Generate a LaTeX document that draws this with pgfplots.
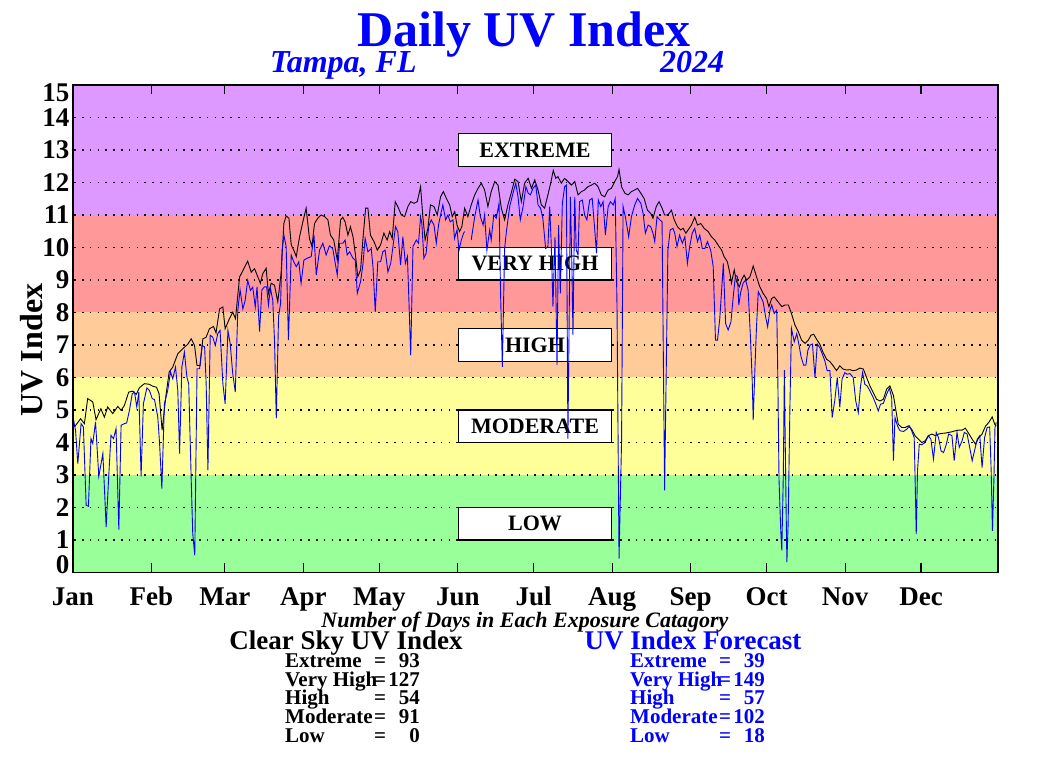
\documentclass[border=0pt]{standalone}
\usepackage{pgfplots}
\usepackage{pgfplotstable}
\pgfplotsset{compat=1.18}
\usepackage{fontspec}
\setmainfont{Liberation Serif}
\definecolor{bgreen}{RGB}{153,255,153}
\definecolor{byellow}{RGB}{255,255,153}
\definecolor{borange}{RGB}{255,204,153}
\definecolor{bred}{RGB}{255,153,153}
\definecolor{bpurple}{RGB}{221,153,255}
\definecolor{uvblue}{RGB}{0,0,255}

\pgfplotstableread{
d v
0.6 4.48
3 4.73
4.5 4.58
5.8 5.35
7.8 5.25
9.1 4.7
11 5.04
12.4 4.78
13.7 5.09
15.7 4.89
17.7 5.11
19 4.99
20.3 5.14
22 5.55
23.6 5.58
25 5.48
26.2 5.68
28.2 5.81
30.2 5.79
31.5 5.73
33 5.7
34 5.5
35.2 4.38
36.8 5.5
38 6.17
39.4 6.32
41.4 6.73
43.4 6.89
45.3 7.02
46.7 7.19
48 6.99
49 6.37
50.2 6.37
51.3 7.19
52.6 7.24
53.9 7.5
55.5 7.57
56.5 7.37
57.9 8.11
59.2 8.17
60.1 7.5
61.8 7.81
63.1 8.01
64.2 7.81
65.8 9.09
67.1 9.29
69 9.58
70.4 9.24
71.7 9.35
73 9.1
74 8.9
75 9.2
76.3 9.36
77.2 8.59
78.3 8.9
79.6 8.84
80.9 8.33
82.2 9.2
83.3 10.74
84.2 10.97
85.3 10.9
86.2 10.08
87.2 9.92
88.2 9.72
89.5 10.33
90.8 10.79
92.1 11.21
93.4 10.28
94.4 10.03
95.4 10.74
96.7 10.9
98 11.0
99.4 10.95
100.7 10.85
101.7 10.38
103 10.23
104.4 9.61
105.7 10.85
106.6 10.93
107.5 10.79
108.6 10.38
109.6 10.64
110.6 10.33
111.5 9.82
112.5 9.1
113.6 9.31
114.5 10.23
115.6 11.21
116.5 11.21
117.5 10.38
118.9 10.18
120.2 9.92
121.5 10.08
122.8 10.44
124.1 10.23
125.1 10.49
126.1 10.28
127.3 11.41
128.3 11.26
129.7 11.0
131 10.95
132.3 11.26
133.4 11.41
134.7 11.36
136 11.41
137.3 11.87
138.2 10.95
139.1 10.23
140.2 10.59
141.2 11.31
142.6 11.26
143.9 11.0
145.2 11.56
146.3 11.72
147.5 11.51
148.8 11.31
149.8 10.95
150.8 11.1
151.7 10.69
152.7 10.49
153.6 10.64
154.7 11.21
156 10.95
157.3 11.31
158.7 11.62
160 11.82
161.3 11.98
162.6 11.77
163.9 11.26
165.2 11.72
166.6 12.03
167.9 11.92
169.2 11.21
170.5 10.85
171.8 11.31
173.1 11.67
174.5 12.1
175.8 12.03
177.1 11.41
178.4 11.98
179.8 12.13
181.1 11.82
182.4 12.08
183.7 11.77
185 11.31
186.3 11.21
187.6 11.62
188.7 11.98
189.7 12.37
190.7 12.13
191.6 12.18
192.9 11.98
194.2 12.13
195.5 12.03
196.9 11.92
198.2 12.03
199.5 11.62
200.8 11.72
202.1 11.77
203.4 11.87
204.8 11.92
206.1 11.98
207.4 11.87
208.7 11.62
210 11.56
211.4 11.77
212.7 11.82
214 12.03
215.1 12.18
215.7 12.4
216.7 11.87
218 11.67
219.3 11.62
220.6 11.72
221.9 11.77
223 11.82
224.3 11.67
225.6 11.51
226.9 11.15
228.2 11.05
229.1 10.9
230.4 11.26
231.5 11.41
232.7 11.21
233.7 11.0
235 11.0
236.4 11.15
237.5 10.85
238.8 10.64
240.1 10.54
241 10.59
242.1 10.44
243 10.54
244.3 10.69
245.6 10.93
246.7 10.69
248 10.74
249.3 10.59
250.9 10.49
252.2 10.33
253.5 10.23
254.8 10.08
256.2 9.92
257.2 9.72
258.5 9.56
259.5 9.2
260.1 8.9
261.2 9.31
262.1 8.95
263.2 8.79
264.1 9.0
265.1 9.15
266.1 9.0
267.4 9.1
268.7 9.43
270 9.1
271.3 8.79
272.6 8.59
274 8.43
274.9 8.18
276 8.43
277 8.48
278 8.38
279 8.28
280 8.18
281.2 8.23
282.6 8.23
283.8 7.97
285.2 7.61
286.5 7.41
287.8 7.15
289.2 7.05
290.5 7.15
291.5 7.3
292.6 7.33
293.7 7.18
295 7.03
296.3 6.77
297.7 6.56
299 6.49
300.3 6.36
301.6 6.21
302.9 6.36
304.2 6.26
305.6 6.23
306.9 6.24
308.2 6.21
309.5 6.23
310.8 6.29
312.2 6.26
313.5 6.0
314.8 5.74
316.1 5.54
317.4 5.33
318.8 5.28
320.1 5.33
321.4 5.64
322.7 5.74
324.1 5.44
325.1 4.97
326 4.56
327.4 4.46
328.7 4.46
330 4.51
331.3 4.41
332.6 4.21
334 4.1
335.3 4.0
336.6 4.05
337.9 4.21
339.3 4.26
340.6 4.21
341.9 4.26
343.2 4.28
344.6 4.29
345.9 4.31
347.2 4.33
348.5 4.36
349.9 4.38
351.2 4.38
352.5 4.44
353.8 4.28
355.2 4.1
356.5 3.95
357.8 4.15
359.1 4.26
360.5 4.51
361.8 4.62
363.1 4.79
364.1 4.56
364.7 4.51
}\clearsky

\pgfplotstableread{
d v
0 4.78
1 4.38
1.9 3.35
3.2 4.58
4.1 4.48
5.2 2.07
6.1 2.04
7.1 4.12
7.8 3.97
8.9 4.63
10.2 2.96
11.8 3.66
13.1 1.4
14.1 2.94
15 4.22
16 4.12
17 4.43
18.1 1.32
19 4.53
20.3 4.58
21.2 4.6
22.3 4.99
23.4 5.5
24.3 5.55
25.2 5.09
26 5.55
26.9 2.96
27.8 5.19
29.2 5.68
30.2 5.6
31.3 5.35
32.2 5.32
33.5 4.78
34.2 3.97
35.1 2.58
36.1 5.19
37.4 5.6
38.5 6.17
39.4 5.96
40.5 6.32
41.4 5.6
42.1 3.66
43 6.32
44 6.78
45 6.01
45.7 5.81
46.7 2.84
47.3 1.2
48.1 0.53
49 6.27
50 6.27
51 6.99
52 6.94
52.6 5.81
53.3 3.15
54.2 7.3
55.2 7.24
56.2 6.99
57.2 7.35
58.1 7.45
59.2 5.81
60.1 5.19
61.2 7.45
62.1 7.04
63.1 6.12
64.1 5.55
65.1 8.06
66 8.7
67.1 8.11
68 8.37
69 8.99
70.1 8.68
71 8.78
72 8.17
72.7 8.79
73.7 7.41
74.6 8.69
75.6 8.79
76.5 8.79
77.2 8.23
78 8.74
78.9 8.38
79.6 7.15
80.3 4.74
81.2 7.87
82 8.28
82.6 9.92
83.3 10.38
84.2 10.03
85.1 7.15
86.2 9.77
87.2 9.56
88.2 9.41
89.2 9.56
90.1 8.9
91.2 9.61
92.5 9.67
94.1 9.72
95.2 10.38
96.1 9.15
97.4 9.92
98.7 10.13
100 9.77
101.3 10.05
102.6 9.97
104.4 9.15
105.3 10.13
106.6 10.13
107.5 10.23
108.3 9.77
109.3 9.87
110.6 9.67
111.5 9.61
112.3 8.59
113.6 8.95
114.5 9.46
115.4 10.28
116.5 9.87
117.8 9.97
118.5 9.41
119.4 8.02
120.4 9.56
121.5 9.56
122.4 9.87
123.3 9.92
124.4 9.25
125.5 9.51
126.4 10.03
127.4 10.64
128.3 10.49
129.4 9.46
130.3 10.33
131.3 9.51
132.1 9.72
132.6 8.59
133.4 6.69
134.3 10.03
135.6 10.23
136.5 10.13
137.3 10.95
137.8 10.74
138.6 9.67
139.5 9.82
140.5 10.64
141.5 10.85
142.6 10.69
143.5 10.13
144.5 10.74
145.5 11.1
146.1 11.31
147.2 10.85
148.1 11.0
149 10.79
150.1 10.85
150.7 10.28
151.7 10.54
152.5 9.92
153.4 10.23
154.3 10.44
154.7 10.49
155.5 nan
157.3 10.23
158.7 10.95
160 11.46
160.9 10.95
162 10.69
162.6 11.0
163.5 9.92
164.6 10.54
165.2 10.23
166.2 11.0
167.2 10.9
168.3 11.36
168.9 8.59
169.6 6.33
170.5 9.97
171.2 10.49
172.5 11.26
173.8 11.67
174.9 11.98
175.8 11.56
176.7 10.85
177.8 11.26
178.9 11.87
179.8 11.67
180.7 11.62
181.7 11.82
182.8 11.92
183.7 11.31
184.7 11.21
185.6 10.9
186.7 9.97
187.6 10.03
188.3 11.26
188.9 10.13
189.6 8.18
190.4 10.33
191.2 6.38
191.8 10.69
192.5 8.59
193.3 11.36
194.2 11.87
194.9 11.92
195.5 4.12
196.5 11.56
197.1 9.31
197.5 7.3
198.2 11.56
198.8 9.92
199.5 9.77
200.1 11.41
201.2 11.46
202.1 11.0
203 10.85
204.1 11.46
205.1 11.51
206.1 10.54
206.8 9.82
207.5 11.46
208.5 11.26
209.4 11.41
210.3 10.38
211.4 11.26
212.3 11.41
213.4 11.31
214.2 11.51
214.9 8.18
215.7 0.43
216.7 4.07
217.3 11.26
218.3 10.9
219.5 10.33
220.6 10.95
221.9 11.31
223 11.51
224.3 11.36
225.2 11.05
226.1 10.44
227.2 10.69
228.2 10.64
229.1 10.44
229.8 10.18
230.7 10.95
231.8 10.85
232.7 10.79
233.2 6.64
233.7 2.53
234.4 6.53
235 9.92
235.9 10.54
237 10.59
237.7 10.44
238.6 10.03
239.6 10.38
240.7 10.13
241.7 10.33
242.7 9.51
243.6 10.03
244.6 10.44
245.6 10.59
246.7 10.18
247.6 10.38
248.6 9.97
249.6 9.97
250.6 10.18
251.9 9.92
252.9 9.41
253.8 7.15
254.6 7.15
255.5 7.82
256.9 9.51
257.8 7.66
258.8 7.46
259.9 7.71
260.8 8.48
261.7 9.15
262.5 9.1
263 8.23
263.8 8.64
264.7 8.9
265.7 9.0
266.7 8.69
267.6 7.25
268.3 5.92
268.7 4.69
269.4 6.33
270 7.56
270.7 8.64
271.7 8.48
272.6 8.33
273.6 7.87
274.4 7.56
275.3 8.07
276 8.23
277 7.97
278 8.07
278.4 6.12
278.9 2.84
279.6 1.25
280 0.68
280.6 3.04
281 6.23
281.5 3.04
282 0.32
282.5 1.5
283.2 5.1
283.8 7.51
284.9 7.1
285.9 7.35
286.8 7.0
287.6 6.64
288.6 6.38
289.5 6.38
290.3 6.84
291.2 7.0
292.1 7.03
293.1 6.0
294 7.03
295 6.92
296 6.72
297 6.51
297.9 6.21
299 6.21
299.9 4.77
300.9 5.28
301.9 6.0
302.9 5.08
303.8 5.95
304.9 6.15
305.8 6.1
306.9 6.12
308.2 6.0
309.2 5.28
310.2 4.92
311.1 5.74
311.9 6.15
312.8 5.79
313.7 5.74
314.8 5.59
316.1 5.38
317.4 5.13
318.1 4.97
319 5.18
320.1 5.2
321.4 5.49
322.5 5.67
323.4 5.38
324.1 3.44
324.7 4.77
325.7 4.51
326.7 4.36
328.1 4.34
329.4 4.41
330.4 4.51
331.3 4.36
332.3 4.15
332.7 2.72
333.1 1.18
333.6 3.13
334.3 3.95
335.3 3.93
336.6 4.0
337.9 4.21
338.9 4.1
339.9 3.49
341 4.31
341.9 4.15
342.9 3.74
343.9 3.69
345 3.95
345.9 4.26
347.2 4.21
348.1 3.44
349.2 4.31
350.1 3.85
351.2 4.05
352.1 4.31
353.2 4.26
354.2 3.85
355.2 3.44
356.1 3.74
357.2 4.1
358.2 4.21
359.1 3.23
360.1 4.15
361.1 4.46
362.1 4.48
362.7 3.13
363.2 1.28
363.8 2.92
364.2 4.46
364.7 4.62
}\forecast

\newcommand{\fs}[1]{\fontsize{#1}{#1}\selectfont}

\begin{document}
\begin{tikzpicture}
\begin{axis}[
  scale only axis, width=925pt, height=487.5pt,
  xmin=0, xmax=365.4, ymin=0, ymax=15,
  xtick={0,31,60,91,121,152,182,213,244,274,305,335},
  xticklabels={Jan,Feb,Mar,Apr,May,Jun,Jul,Aug,Sep,Oct,Nov,Dec},
  ytick={1,2,...,14},
  extra y ticks={0.23,14.75},
  extra y tick labels={0,15},
  tick align=inside,
  major tick length=9pt,
  xtick style={black, line width=1.2pt},
  ytick style={draw=none},
  axis line style={black, line width=1.8pt},
  tick label style={font=\fs{27}\bfseries},
  /pgf/number format/assume math mode=true,
  xticklabel style={text height=19pt, text depth=6pt, yshift=-10pt},
  unbounded coords=jump,
  axis on top,
]
\addplot[draw=none, fill=bgreen] coordinates {(-2,-1) (368,-1) (368,3) (-2,3)};
\addplot[draw=none, fill=byellow] coordinates {(-2,3) (368,3) (368,6) (-2,6)};
\addplot[draw=none, fill=borange] coordinates {(-2,6) (368,6) (368,8) (-2,8)};
\addplot[draw=none, fill=bred] coordinates {(-2,8) (368,8) (368,11) (-2,11)};
\addplot[draw=none, fill=bpurple] coordinates {(-2,11) (368,11) (368,16) (-2,16)};

\pgfplotsinvokeforeach{1,...,14}{
  \draw[black, line width=1.6pt, dash pattern=on 1.6pt off 6.2pt] (axis cs:0.5,#1) -- (axis cs:365.4,#1);
}

\draw[fill=white, line width=1.2pt] (axis cs:152.3,12.5) rectangle (axis cs:212.8,13.5);
\draw[fill=white, line width=1.2pt] (axis cs:152.3,9) rectangle (axis cs:212.8,10);
\draw[fill=white, line width=1.2pt] (axis cs:152.3,6.5) rectangle (axis cs:212.8,7.5);
\draw[fill=white, line width=1.2pt] (axis cs:152.3,4) rectangle (axis cs:212.8,5);
\draw[fill=white, line width=1.2pt] (axis cs:152.3,1) rectangle (axis cs:212.8,2);
\node[font=\fs{22}\bfseries] at (axis cs:182.5,13) {EXTREME};
\node[font=\fs{22}\bfseries] at (axis cs:182.5,9.5) {VERY HIGH};
\node[font=\fs{22}\bfseries] at (axis cs:182.5,7) {HIGH};
\node[font=\fs{22}\bfseries] at (axis cs:182.5,4.5) {MODERATE};
\node[font=\fs{22}\bfseries] at (axis cs:182.5,1.5) {LOW};

\addplot[black, line width=0.9pt] table[x=d, y=v] {\clearsky};
\addplot[uvblue, line width=0.9pt] table[x=d, y=v] {\forecast};
\end{axis}

\node[anchor=base, text=uvblue, font=\fs{50}\bfseries] at (451pt,525.5pt) {Daily UV Index};
\node[anchor=base west, inner sep=0pt, text=uvblue, font=\fs{32}\bfseries\itshape] at (197pt,499.5pt) {Tampa, FL};
\node[anchor=base west, inner sep=0pt, text=uvblue, font=\fs{32}\bfseries\itshape] at (587pt,499.5pt) {2024};
\node[rotate=90, font=\fs{32}\bfseries] at (-41pt,222.5pt) {UV Index};

\node[anchor=base, inner sep=0pt, font=\fs{22}\bfseries\itshape] at (452pt,-55pt) {Number of Days in Each Exposure Catagory};
\node[anchor=base, inner sep=0pt, font=\fs{27}\bfseries] at (273pt,-77.5pt) {Clear Sky UV Index};
\node[anchor=base, inner sep=0pt, text=uvblue, font=\fs{27}\bfseries] at (620pt,-77.5pt) {UV Index Forecast};

\foreach \lab/\num/\yy in {Extreme/93/-95.5, Very High/127/-114.5, High/54/-132.5, Moderate/91/-151.5, Low/0/-170.5}{
  \node[anchor=base west, inner sep=0pt, font=\fs{21}\bfseries] at (212pt,\yy pt) {\lab};
  \node[anchor=base west, inner sep=0pt, font=\fs{21}\bfseries] at (301pt,\yy pt) {=};
  \node[anchor=base east, inner sep=0pt, font=\fs{21}\bfseries] at (347pt,\yy pt) {\num};
}
\foreach \lab/\num/\yy in {Extreme/39/-95.5, Very High/149/-114.5, High/57/-132.5, Moderate/102/-151.5, Low/18/-170.5}{
  \node[anchor=base west, inner sep=0pt, text=uvblue, font=\fs{21}\bfseries] at (557pt,\yy pt) {\lab};
  \node[anchor=base west, inner sep=0pt, text=uvblue, font=\fs{21}\bfseries] at (646pt,\yy pt) {=};
  \node[anchor=base east, inner sep=0pt, text=uvblue, font=\fs{21}\bfseries] at (692pt,\yy pt) {\num};
}
\path[use as bounding box] (-73pt,-197.5pt) rectangle (977pt,572.5pt);
\end{tikzpicture}
\end{document}
